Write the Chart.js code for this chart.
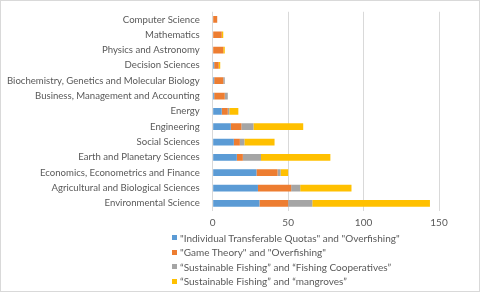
<!DOCTYPE html>
<html>
<head>
<meta charset="utf-8">
<script src="https://cdn.jsdelivr.net/npm/chart.js@4"></script>
<style>
    body { margin: 0; background: #fff; }
    #wrap { position: relative; width: 478px; height: 290px; border: 1px solid #d9d9d9; }
    #legend { position: absolute; left: 171px; top: 229.5px; font-family: Lato, sans-serif; font-size: 10px; color: #595959; }
    #legend div { height: 14.5px; line-height: 14.5px; white-space: nowrap; }
    #legend span { display: inline-block; width: 5px; height: 5px; margin-right: 3px; vertical-align: middle; position: relative; top: -1px; }
</style>
</head>
<body>
<div id="wrap">
    <canvas id="subjectCanvas" width="478" height="290"></canvas>
    <div id="legend"></div>
</div>
<script>
var subjects = ["Computer Science", "Mathematics", "Physics and Astronomy", "Decision Sciences",
    "Biochemistry, Genetics and Molecular Biology", "Business, Management and Accounting", "Energy",
    "Engineering", "Social Sciences", "Earth and Planetary Sciences", "Economics, Econometrics and Finance",
    "Agricultural and Biological Sciences", "Environmental Science"];
var seriesNames = ['"Individual Transferable Quotas" and "Overfishing"', '"Game Theory" and "Overfishing"',
    '“Sustainable Fishing” and “Fishing Cooperatives”', '“Sustainable Fishing” and “mangroves”'];
var itqOverfishing = [0, 0, 0, 1, 1, 1, 6, 12, 14, 16, 29, 30, 31];
var gameTheory = [3, 6, 7, 3, 6, 7, 4, 7, 4, 4, 14, 22, 19];
var cooperatives = [0, 0, 0, 0, 1, 2, 1, 8, 3, 12, 2, 6, 16];
var mangroves = [0, 1, 1, 1, 0, 0, 6, 33, 20, 46, 5, 34, 78];
var xTicks = [0, 50, 100, 150];

var colors = ["#5B9BD5", "#ED7D31", "#A5A5A5", "#FFC000"];
var allSeries = [itqOverfishing, gameTheory, cooperatives, mangroves];

var datasets = [];
for (var i = 0; i < allSeries.length; i++) {
    datasets.push({
        label: seriesNames[i],
        data: allSeries[i],
        backgroundColor: colors[i],
        categoryPercentage: 1,
        barPercentage: 0.44
    });
}

var ctx = document.getElementById("subjectCanvas");
var barChart = new Chart(ctx, {
    type: "bar",
    data: {
        labels: subjects,
        datasets: datasets
    },
    options: {
        indexAxis: "y",
        responsive: false,
        animation: false,
        layout: { padding: { left: 1, right: 40, top: 3, bottom: 56 } },
        plugins: {
            legend: { display: false },
            tooltip: { enabled: false }
        },
        scales: {
            x: {
                stacked: true,
                min: 0,
                max: 150,
                afterBuildTicks: function(axis) {
                    axis.ticks = xTicks.map(function(v) { return { value: v }; });
                },
                grid: { color: "#d9d9d9", drawTicks: false },
                border: { display: false },
                ticks: { color: "#595959", font: { family: "Lato", size: 10 }, padding: 6 }
            },
            y: {
                stacked: true,
                grid: { display: false },
                border: { display: false },
                ticks: { color: "#595959", font: { family: "Lato", size: 9.6 }, padding: 5, autoSkip: false }
            }
        }
    }
});

// legend, one series per line
var legend = document.getElementById("legend");
barChart.data.datasets.forEach(function(ds) {
    var row = document.createElement("div");
    var box = document.createElement("span");
    box.style.background = ds.backgroundColor;
    row.appendChild(box);
    row.appendChild(document.createTextNode(ds.label));
    legend.appendChild(row);
});
</script>
</body>
</html>
